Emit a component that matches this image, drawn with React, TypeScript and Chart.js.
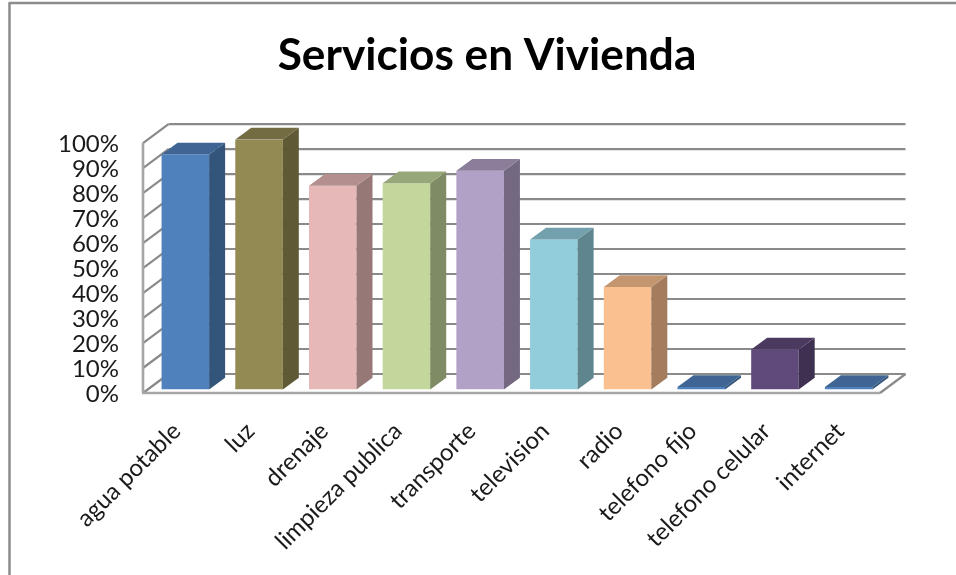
import React, { useEffect, useRef } from "react";
import { Chart, registerables } from "chart.js";

Chart.register(...registerables);

const categories = ["agua potable", "luz", "drenaje", "limpieza publica", "transporte", "television", "radio", "telefono fijo", "telefono celular", "internet"];
const coverage = [94, 100, 81.5, 82.5, 87.5, 60, 41, 1, 16, 1];
const colors = ["#4F81BD", "#938953", "#E6B8B7", "#C3D69B", "#B2A1C7", "#92CDDC", "#FAC08F", "#4F81BD", "#604A7B", "#4F81BD"];
const titleText = "Servicios en Vivienda";

const WALL_DX = 25.5, WALL_DY = -19;
const BAR_SHIFT_X = 5.5, BAR_SHIFT_Y = -3.5;
const BAR_DX = 16, BAR_DY = -11.7;
const GRID = "#8a8a8a";

function shade(hex: string, f: number) {
  const n = parseInt(hex.slice(1), 16);
  const c = [(n >> 16) & 255, (n >> 8) & 255, n & 255].map((v) => Math.round(v * f));
  return `rgb(${c[0]},${c[1]},${c[2]})`;
}

function line(ctx: CanvasRenderingContext2D, x1: number, y1: number, x2: number, y2: number) {
  ctx.beginPath();
  ctx.moveTo(x1, y1);
  ctx.lineTo(x2, y2);
  ctx.stroke();
}

const frame3d = {
  id: "frame3d",
  afterLayout(chart: any) {
    chart.scales.y.left = 40;
  },
  beforeDraw(chart: any) {
    const ctx = chart.ctx;
    ctx.save();
    ctx.strokeStyle = "#8c8c8c";
    ctx.lineWidth = 2.5;
    line(ctx, 9.5, 575, 9.5, 3);
    line(ctx, 8.5, 3, 956, 3);
    ctx.restore();
  },
  beforeDatasetsDraw(chart: any) {
    const { ctx, scales } = chart;
    const { x, y } = scales;
    const L = x.left, R = x.right;
    ctx.save();
    ctx.strokeStyle = GRID;
    ctx.lineWidth = 2.2;
    y.ticks.forEach((t: any) => {
      const py = y.getPixelForValue(t.value);
      line(ctx, L, py, L + WALL_DX, py + WALL_DY);
      line(ctx, L + WALL_DX, py + WALL_DY, R + WALL_DX, py + WALL_DY);
    });
    const b = y.getPixelForValue(0);
    const t = y.getPixelForValue(100);
    line(ctx, R, b, R + WALL_DX, b + WALL_DY);
    ctx.strokeStyle = "#a6a6a6";
    ctx.lineWidth = 2.6;
    line(ctx, L, t, L, b);
    line(ctx, L - 1, b, R, b);
    ctx.restore();
  },
  beforeDatasetDraw(chart: any) {
    chart.ctx.save();
    chart.ctx.translate(BAR_SHIFT_X, BAR_SHIFT_Y);
  },
  afterDatasetDraw(chart: any) {
    const ctx = chart.ctx;
    chart.getDatasetMeta(0).data.forEach((el: any, i: number) => {
      const l = el.x - el.width / 2, r = el.x + el.width / 2;
      const top = el.y, base = el.base;
      ctx.fillStyle = shade(colors[i], 0.65);
      ctx.beginPath();
      ctx.moveTo(r, top);
      ctx.lineTo(r + BAR_DX, top + BAR_DY);
      ctx.lineTo(r + BAR_DX, base + BAR_DY);
      ctx.lineTo(r, base);
      ctx.closePath();
      ctx.fill();
      ctx.fillStyle = shade(colors[i], 0.78);
      ctx.beginPath();
      ctx.moveTo(l, top);
      ctx.lineTo(l + BAR_DX, top + BAR_DY);
      ctx.lineTo(r + BAR_DX, top + BAR_DY);
      ctx.lineTo(r, top);
      ctx.closePath();
      ctx.fill();
    });
    ctx.restore();
  },
};

export default function App() {
  const ref = useRef<HTMLCanvasElement>(null);
  useEffect(() => {
    const chart = new Chart(ref.current!, {
      type: "bar",
      data: {
        labels: categories,
        datasets: [{ data: coverage, backgroundColor: colors, barPercentage: 0.645, categoryPercentage: 1 }],
      },
      plugins: [frame3d],
      options: {
        animation: false,
        responsive: false,
        devicePixelRatio: 1,
        layout: { padding: { left: 94, right: 76, top: 0, bottom: 0 } },
        plugins: {
          legend: { display: false },
          tooltip: { enabled: false },
          title: {
            display: true,
            text: titleText,
            color: "#000",
            font: { family: "Lato", size: 44.2, weight: "bold", lineHeight: 1.2 },
            padding: { top: 29.5, bottom: 60.5 },
          },
        },
        scales: {
          x: {
            grid: { display: false },
            border: { display: false },
            ticks: {
              color: "#1a1a1a",
              font: { family: "Lato", size: 24 },
              minRotation: 45,
              maxRotation: 45,
              autoSkip: false,
              padding: 16,
              labelOffset: -3,
            },
            afterFit(s: any) {
              s.height = 182;
              s.paddingLeft = 0;
              s.paddingRight = 0;
            },
          },
          y: {
            min: 0,
            max: 100,
            grid: { display: false },
            border: { display: false },
            ticks: {
              stepSize: 10,
              autoSkip: false,
              color: "#1a1a1a",
              font: { family: "Lato", size: 24 },
              padding: 16,
              labelOffset: 1,
              callback: (v: any) => `${v}%`,
            },
            afterFit(s: any) {
              s.width = 49;
              s.paddingTop = 0;
              s.paddingBottom = 0;
            },
          },
        },
      },
    } as any);
    return () => chart.destroy();
  }, []);
  return (
    <div style={{ position: "absolute", left: 0, top: 0, width: 956, height: 575, background: "#fff" }}>
      <canvas ref={ref} width={956} height={575} style={{ display: "block", filter: "blur(0.4px)" }} />
    </div>
  );
}
